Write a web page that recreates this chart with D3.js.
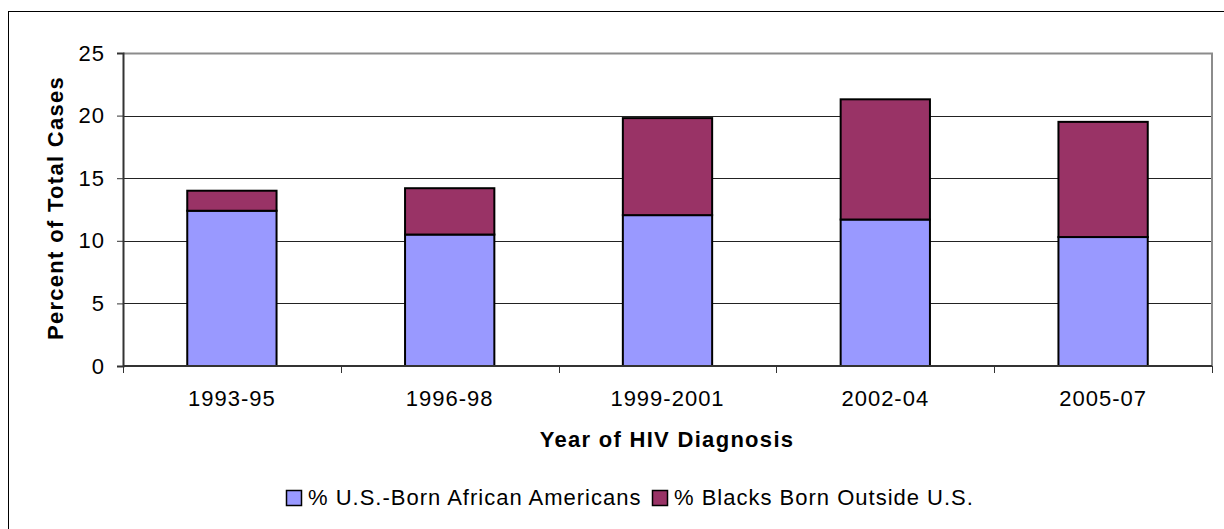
<!DOCTYPE html>
<html>
<head>
<meta charset="utf-8">
<script src="https://cdn.jsdelivr.net/npm/d3@7"></script>
<style>
  body { margin: 0; background: #fff; }
  svg { display: block; font-family: "Liberation Sans", Arial, sans-serif; }
  .tick-label { font-size: 22px; letter-spacing: 1px; fill: #000; }
  .axis-title { font-size: 22px; font-weight: bold; letter-spacing: 1.3px; fill: #000; }
  .legend-label { font-size: 22px; letter-spacing: 1px; fill: #000; }
</style>
</head>
<body>
<svg width="1224" height="529"></svg>
<script>
const categories = ['1993-95', '1996-98', '1999-2001', '2002-04', '2005-07'];
const usBorn = [12.4, 10.5, 12.05, 11.7, 10.3];
const foreignBorn = [1.6, 3.7, 7.75, 9.6, 9.2];
const seriesNames = ['% U.S.-Born African Americans', '% Blacks Born Outside U.S.'];
const seriesColors = ['#9999ff', '#993366'];
const yTicks = [0, 5, 10, 15, 20, 25];

const svg = d3.select('svg');

// outer chart frame (runs off the right / bottom edge)
svg.append('rect')
  .attr('x', 8.5).attr('y', 11.5)
  .attr('width', 1240).attr('height', 540)
  .attr('fill', 'none').attr('stroke', '#000').attr('stroke-width', 1);

const plot = { left: 123, right: 1212, top: 53, bottom: 366 };

const x = d3.scaleBand()
  .domain(categories)
  .range([plot.left, plot.right])
  .paddingInner(0.59)
  .paddingOuter(0.295);

const y = d3.scaleLinear().domain([0, 25]).range([plot.bottom, plot.top]);

// gridlines
svg.append('g')
  .selectAll('line')
  .data(yTicks.filter(d => d > 0 && d < 25))
  .join('line')
  .attr('x1', plot.left).attr('x2', plot.right)
  .attr('y1', d => Math.round(y(d)) + 0.5).attr('y2', d => Math.round(y(d)) + 0.5)
  .attr('stroke', '#222').attr('stroke-width', 1);

// plot area top / right border
svg.append('path')
  .attr('d', `M${plot.left},${plot.top + 0.5}H${plot.right}V${plot.bottom}`)
  .attr('fill', 'none').attr('stroke', '#8c8c8c').attr('stroke-width', 2);

// stacked bars
const stackData = categories.map((c, i) => ({ cat: c, us: usBorn[i], fb: foreignBorn[i] }));
const stacked = d3.stack().keys(['us', 'fb'])(stackData);

svg.append('g')
  .selectAll('g')
  .data(stacked)
  .join('g')
  .attr('fill', (d, i) => seriesColors[i])
  .selectAll('rect')
  .data(d => d)
  .join('rect')
  .attr('x', d => x(d.data.cat))
  .attr('width', x.bandwidth())
  .attr('y', d => y(d[1]))
  .attr('height', d => y(d[0]) - y(d[1]))
  .attr('stroke', '#000')
  .attr('stroke-width', 2);

// y axis
const yAxis = d3.axisLeft(y).tickValues(yTicks).tickSize(6).tickPadding(12);
const yg = svg.append('g').attr('transform', `translate(${plot.left},0)`).call(yAxis);
yg.select('.domain').attr('stroke', '#333').attr('stroke-width', 2);
yg.selectAll('.tick line').attr('stroke', '#333');
yg.selectAll('.tick text').attr('class', 'tick-label').attr('font-size', null).attr('font-family', null);

// x axis line with ticks on category boundaries
svg.append('line')
  .attr('x1', plot.left).attr('x2', plot.right)
  .attr('y1', plot.bottom).attr('y2', plot.bottom)
  .attr('stroke', '#333').attr('stroke-width', 2);

const boundaries = d3.range(categories.length + 1).map(i => plot.left + i * x.step());
svg.append('g')
  .selectAll('line')
  .data(boundaries)
  .join('line')
  .attr('x1', d => Math.round(d) + 0.5).attr('x2', d => Math.round(d) + 0.5)
  .attr('y1', plot.bottom).attr('y2', plot.bottom + 7)
  .attr('stroke', '#333');

svg.append('g')
  .selectAll('text')
  .data(categories)
  .join('text')
  .attr('class', 'tick-label')
  .attr('x', d => x(d) + x.bandwidth() / 2)
  .attr('y', 406)
  .attr('text-anchor', 'middle')
  .text(d => d);

// axis titles
svg.append('text')
  .attr('class', 'axis-title')
  .attr('x', 667).attr('y', 447)
  .attr('text-anchor', 'middle')
  .text('Year of HIV Diagnosis');

svg.append('text')
  .attr('class', 'axis-title')
  .attr('transform', 'translate(63,208) rotate(-90)')
  .attr('text-anchor', 'middle')
  .text('Percent of Total Cases');

// legend
const legendX = [286, 652];
const legend = svg.append('g')
  .selectAll('g')
  .data(seriesNames)
  .join('g')
  .attr('transform', (d, i) => `translate(${legendX[i]},0)`);

legend.append('rect')
  .attr('x', 0.5).attr('y', 490.5)
  .attr('width', 15).attr('height', 15)
  .attr('fill', (d, i) => seriesColors[i])
  .attr('stroke', '#000').attr('stroke-width', 1.5);

legend.append('text')
  .attr('class', 'legend-label')
  .attr('x', 22).attr('y', 505)
  .text(d => d);
</script>
</body>
</html>
